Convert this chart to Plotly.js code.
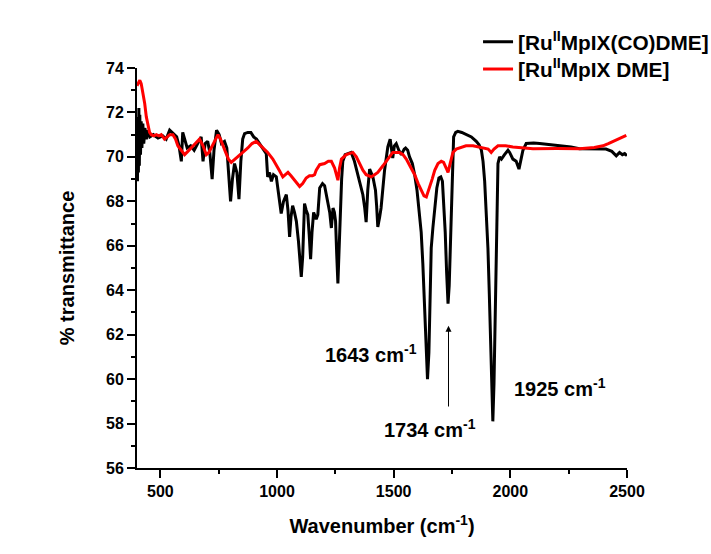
<!DOCTYPE html>
<html>
<head>
<meta charset="utf-8">
<script src="https://cdn.plot.ly/plotly-3.0.1.min.js"></script>
<style>html,body{margin:0;padding:0;background:#fff;}#chart{width:711px;height:554px;}</style>
</head>
<body>
<div id="chart"></div>
<script>
// [Ru(II)MpIX(CO)DME] spectrum
const coX = [400,402,404,406,408,410,412,415,418,421,425,429,434,440,447,455,470,490,510,525,540,555,570,580,590,596,605,615,630,645,660,675,683,692,703,712,722,730,741,752,762,775,785,793,801,809,818,828,837,845,853,861,875,888,900,912,925,940,954,960,968,976,985,997,1008,1018,1028,1040,1047,1054,1060,1067,1075,1083,1092,1100,1104,1110,1118,1125,1132,1138,1144,1150,1157,1168,1175,1183,1195,1204,1212,1218,1226,1233,1240,1246,1251,1256,1261,1266,1271,1277,1282,1292,1304,1318,1332,1343,1354,1368,1376,1382,1389,1397,1411,1422,1427,1432,1440,1446,1461,1475,1485,1496,1503,1511,1522,1533,1545,1551,1560,1568,1580,1590,1600,1611,1618,1625,1632,1638,1645,1651,1656,1661,1668,1676,1685,1694,1702,1709,1716,1721,1727,1733,1738,1743,1748,1751,1757,1766,1775,1792,1811,1833,1854,1866,1876,1883,1890,1897,1904,1910,1916,1921,1925,1930,1935,1941,1947,1954,1962,1975,1990,1997,2011,2025,2037,2046,2054,2068,2100,2126,2170,2224,2260,2296,2350,2410,2435,2454,2468,2480,2490,2500];
const coY = [70.2,68.9,71.8,69.3,72.2,69.6,71.9,70.1,71.6,70.4,71.5,70.6,71.3,70.8,71.2,70.9,71.0,70.85,70.95,70.8,71.2,71.05,70.9,70.5,69.8,71.1,70.7,70.4,70.5,70.3,70.6,70.9,69.8,70.6,70.7,70.2,69.0,70.3,71.2,71.0,70.6,70.7,70.4,69.3,68.0,69.0,69.7,69.3,68.1,69.8,70.8,71.05,71.1,71.1,70.9,70.8,70.6,70.4,70.15,69.1,69.3,68.9,69.2,69.1,68.3,67.45,68.0,68.3,67.6,66.4,67.3,67.8,67.5,67.1,66.2,64.8,64.6,65.5,67.9,67.6,67.4,66.5,65.4,66.6,67.5,67.2,67.4,68.6,68.8,68.7,68.3,68.0,67.5,66.8,67.7,67.5,67.1,65.6,64.3,65.8,67.7,69.0,69.8,70.1,70.15,70.2,69.8,69.3,68.9,68.3,67.7,67.06,68.5,69.45,69.1,68.5,67.8,66.85,67.3,67.7,69.4,70.45,70.8,69.95,70.5,70.6,70.3,70.1,70.35,70.4,70.3,70.0,69.7,69.2,68.5,67.4,66.6,65.2,63.2,61.5,60.0,61.2,63.6,65.9,66.8,67.6,68.6,69.05,69.1,68.9,67.8,66.6,64.8,63.4,64.2,65.9,68.0,69.6,70.9,71.1,71.15,71.1,71.0,70.9,70.7,70.55,70.3,69.8,68.9,67.6,65.9,63.8,61.5,59.5,58.1,59.8,63.0,67.0,69.7,70.0,69.9,70.1,70.3,70.2,69.9,69.8,69.45,69.9,70.3,70.6,70.62,70.6,70.55,70.5,70.45,70.37,70.35,70.35,70.25,70.05,70.2,70.1,70.15,70.05];

// [Ru(II)MpIX DME] spectrum
const dmeX = [400,406,412,418,425,433,440,447,454,461,472,483,494,504,518,530,540,554,565,575,590,604,618,633,650,668,683,697,708,718,732,747,758,768,780,792,804,820,840,858,875,893,911,925,940,960,982,1000,1012,1025,1036,1047,1060,1075,1088,1097,1110,1125,1139,1152,1161,1168,1183,1204,1220,1233,1247,1255,1261,1268,1276,1297,1325,1340,1354,1368,1382,1404,1418,1432,1454,1475,1496,1525,1540,1554,1570,1590,1605,1618,1630,1640,1654,1665,1676,1690,1704,1714,1725,1733,1742,1754,1768,1783,1810,1840,1868,1890,1905,1918,1930,1947,1980,2011,2050,2097,2200,2296,2360,2397,2420,2440,2470,2497];
const dmeY = [73.2,73.35,73.45,73.3,72.9,72.4,71.8,71.35,71.1,71.0,70.95,71.0,70.95,71.0,70.8,70.9,71.0,71.0,70.8,70.5,70.3,70.1,70.25,70.4,70.6,70.8,70.5,70.1,70.2,70.4,70.7,71.0,70.8,70.5,70.2,69.9,69.75,69.9,70.1,70.25,70.4,70.6,70.7,70.55,70.4,70.2,69.9,69.6,69.35,69.1,69.2,69.3,69.15,68.95,68.75,68.67,68.8,69.05,69.15,69.15,69.2,69.4,69.65,69.7,69.8,69.8,69.5,69.2,68.95,69.5,69.9,70.1,70.2,70.0,69.7,69.4,69.2,69.1,69.2,69.3,69.6,69.9,70.2,70.2,70.1,69.9,69.6,69.2,68.8,68.5,68.25,68.2,68.6,69.0,69.4,69.7,69.8,69.75,69.5,69.3,69.7,70.2,70.35,70.4,70.5,70.5,70.45,70.4,70.35,70.2,70.35,70.5,70.5,70.45,70.4,70.37,70.38,70.37,70.42,70.5,70.6,70.7,70.85,70.97];

const seriesNames = ['[Ru<sup>II</sup>MpIX(CO)DME]', '[Ru<sup>II</sup>MpIX DME]'];
const peakLabels = ['1643 cm<sup>-1</sup>', '1734 cm<sup>-1</sup>', '1925 cm<sup>-1</sup>'];
const peakLabelX = [1401, 1654, 2211];
const peakLabelY = [61.15, 57.77, 59.62];
const arrowX = 1735, arrowFromY = 58.7, arrowToY = 62.4;

const FONT = 'Arial, "Liberation Sans", sans-serif';
const legendFont = {family: FONT, size: 20.8, color: '#000', weight: 'bold'};

const traces = [
  {x: coX, y: coY, type: 'scatter', mode: 'lines', name: seriesNames[0], legend: 'legend',
   line: {color: '#000000', width: 3}},
  {x: dmeX, y: dmeY, type: 'scatter', mode: 'lines', name: seriesNames[1], legend: 'legend2',
   line: {color: '#ff0000', width: 3}}
];

const annotations = peakLabels.map((t, i) => ({
  x: peakLabelX[i], y: peakLabelY[i], xref: 'x', yref: 'y', text: t, showarrow: false,
  font: {family: FONT, size: 20, color: '#000', weight: 'bold'}
}));
annotations.push({
  x: arrowX, y: arrowToY, ax: arrowX, ay: arrowFromY, xref: 'x', yref: 'y', axref: 'x', ayref: 'y',
  text: '', showarrow: true, arrowhead: 2, arrowsize: 1.2, arrowwidth: 1, arrowcolor: '#000'
});

const axisCommon = {
  showline: true, linecolor: '#000', linewidth: 2, mirror: false,
  ticks: 'outside', ticklen: 8, tickwidth: 2, tickcolor: '#000',
  showgrid: false, zeroline: false, automargin: false,
  tickfont: {family: FONT, size: 16, color: '#000', weight: 'bold'}
};

const layout = {
  width: 711, height: 554,
  margin: {l: 137, r: 84, t: 68, b: 86, autoexpand: false},
  paper_bgcolor: '#ffffff', plot_bgcolor: '#ffffff',
  showlegend: true,
  legend: {x: 0.696, y: 1.1155, xanchor: 'left', yanchor: 'top', bgcolor: 'rgba(0,0,0,0)', font: legendFont},
  legend2: {x: 0.696, y: 1.0475, xanchor: 'left', yanchor: 'top', bgcolor: 'rgba(0,0,0,0)', font: legendFont},
  xaxis: Object.assign({}, axisCommon, {
    range: [400, 2500], tick0: 500, dtick: 500,
    minor: {ticks: 'outside', ticklen: 4, tickwidth: 2, tickcolor: '#000', dtick: 250, tick0: 250, showgrid: false},
    title: {text: 'Wavenumber (cm<sup>-1</sup>)', standoff: 20,
      font: {family: FONT, size: 20, color: '#000', weight: 'bold'}}
  }),
  yaxis: Object.assign({}, axisCommon, {
    range: [56, 74], tick0: 56, dtick: 2,
    minor: {ticks: 'outside', ticklen: 4, tickwidth: 2, tickcolor: '#000', dtick: 1, showgrid: false},
    title: {text: '% transmittance', standoff: 26,
      font: {family: FONT, size: 20, color: '#000', weight: 'bold'}}
  }),
  annotations: annotations
};

Plotly.newPlot('chart', traces, layout, {displayModeBar: false, staticPlot: true});
</script>
</body>
</html>
